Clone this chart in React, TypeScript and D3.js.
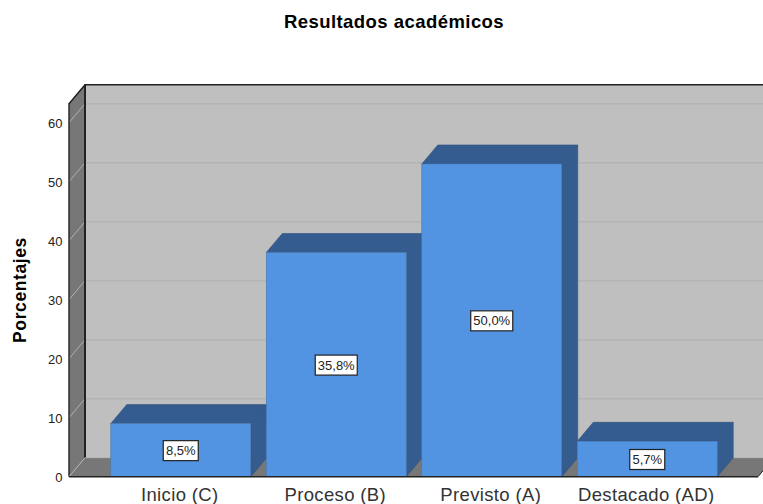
import React from "react";
import * as d3 from "d3";

const categories = ["Inicio (C)", "Proceso (B)", "Previsto (A)", "Destacado (AD)"];
const barValues = [9, 38, 53, 6];
const barLabels = ["8,5%", "35,8%", "50,0%", "5,7%"];
const yTicks = [0, 10, 20, 30, 40, 50, 60];
const yMax = 63.2;
const title = "Resultados académicos";
const yTitle = "Porcentajes";

const W = 763, H = 504;
const DX = 16, DY = -19;
const font = "'Liberation Sans', Arial, sans-serif";
const y = d3.scaleLinear().domain([0, yMax]).range([476.7, 103.8]);
const x = d3.scaleBand<string>().domain(categories).range([103, 725]).paddingInner(0.1).paddingOuter(0.05);
const L = 69, R = 758;
const pts = (p: number[][]) => p.map(a => a.join(",")).join(" ");

export default function App() {
  const y0 = y(0), yT = y(yMax);
  return (
    <svg width={W} height={H} style={{ position: "absolute", left: 0, top: 0, display: "block" }}>
      <rect width={W} height={H} fill="#fff" />
      <text x={394} y={28} textAnchor="middle" fontFamily={font} fontWeight="bold" fontSize={18.5} letterSpacing={0.45} fill="#000">{title}</text>
      <text transform="translate(26,290) rotate(-90)" textAnchor="middle" fontFamily={font} fontWeight="bold" fontSize={17.5} letterSpacing={0.6} fill="#000">{yTitle}</text>
      {/* back wall */}
      <rect x={L + DX} y={yT + DY} width={R - L} height={y0 - yT} fill="#bfbfbf" />
      {/* left wall */}
      <polygon points={pts([[L, y0], [L + DX, y0 + DY], [L + DX, yT + DY], [L, yT]])} fill="#777" />
      {/* floor */}
      <polygon points={pts([[L, y0], [L + DX, y0 + DY], [R + DX, y0 + DY], [R, y0]])} fill="#777" />
      {/* grid */}
      {yTicks.slice(1).map(t => (
        <g key={t}>
          <line x1={L + DX} x2={R + DX} y1={y(t) + DY} y2={y(t) + DY} stroke="#b4b4b4" strokeWidth={1.4} />
          <line x1={L} x2={L + DX} y1={y(t)} y2={y(t) + DY} stroke="#b0b0b0" strokeWidth={1} />
        </g>
      ))}
      {/* frame */}
      <polyline points={pts([[L, y0], [L, yT], [L + DX, yT + DY], [W + 20, yT + DY]])} fill="none" stroke="#222" strokeWidth={1.4} />
      <line x1={L + DX} x2={L + DX} y1={yT + DY} y2={y0 + DY} stroke="#222" strokeWidth={2} />
      <line x1={L} x2={L + DX} y1={yT} y2={yT + DY} stroke="#222" strokeWidth={1} />
      <line x1={L} x2={L + DX} y1={y0} y2={y0 + DY} stroke="#b0b0b0" strokeWidth={1} />
      <line x1={L + DX} x2={W + 20} y1={y0 + DY} y2={y0 + DY} stroke="#b0b0b0" strokeWidth={0.6} />
      <line x1={R} x2={R + DX} y1={y0} y2={y0 + DY} stroke="#222" strokeWidth={1} />
      {/* bars */}
      {categories.map((c, i) => {
        const bx = x(c)!, bw = x.bandwidth(), by = y(barValues[i]);
        return (
          <g key={c}>
            <polygon points={pts([[bx, by], [bx + DX, by + DY], [bx + bw + DX, by + DY], [bx + bw, by]])} fill="#355c8f" stroke="#2f5280" strokeWidth={0.6} />
            <polygon points={pts([[bx + bw, by], [bx + bw + DX, by + DY], [bx + bw + DX, y0 + DY], [bx + bw, y0]])} fill="#355c8f" stroke="#2f5280" strokeWidth={0.6} />
            <rect x={bx} y={by} width={bw} height={y0 - by} fill="#5294e2" stroke="#4a78b0" strokeWidth={0.6} />
          </g>
        );
      })}
      <line x1={L} x2={R} y1={y0} y2={y0} stroke="#222" strokeWidth={1.4} />
      {/* value labels */}
      {categories.map((c, i) => {
        const cx = x(c)! + x.bandwidth() / 2, cy = (y(barValues[i]) + y0) / 2 + 0.5;
        const w = barLabels[i].length === 4 ? 35 : 42;
        return (
          <g key={c}>
            <rect x={cx - w / 2} y={cy - 10} width={w} height={20} fill="#fff" stroke="#222" strokeWidth={1.2} />
            <text x={cx} y={cy + 4.5} textAnchor="middle" fontFamily={font} fontSize={13} fill="#222">{barLabels[i]}</text>
          </g>
        );
      })}
      {/* y ticks */}
      {yTicks.map(t => (
        <text key={t} x={62.5} y={y(t) + 5} textAnchor="end" fontFamily={font} fontSize={13} fill="#222">{t}</text>
      ))}
      {/* x labels */}
      {categories.map(c => (
        <text key={c} x={x(c)! + x.bandwidth() / 2 - 1} y={501} textAnchor="middle" fontFamily={font} fontSize={18.5} letterSpacing={0.35} fill="#333">{c}</text>
      ))}
    </svg>
  );
}
